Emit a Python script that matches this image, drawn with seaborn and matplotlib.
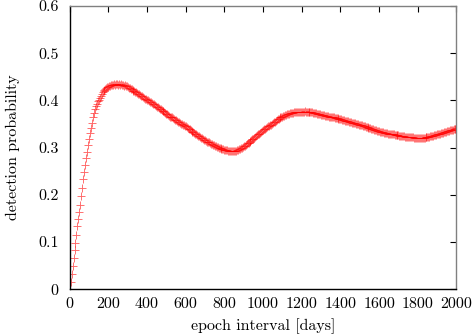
import matplotlib
matplotlib.use("Agg")
import matplotlib.pyplot as plt
import seaborn as sns
import pandas as pd

# ---- data ----
days = list(range(5, 2001, 5))

prob_0005_0400 = [
    0.016, 0.033, 0.050, 0.066, 0.083, 0.099, 0.116, 0.134, 0.148, 0.163,
    0.179, 0.198, 0.215, 0.233, 0.249, 0.264, 0.278, 0.291, 0.305, 0.318,
    0.331, 0.342, 0.352, 0.364, 0.373, 0.381, 0.388, 0.392, 0.399, 0.402,
    0.405, 0.410, 0.413, 0.417, 0.419, 0.422, 0.424, 0.426, 0.428, 0.429,
    0.430, 0.431, 0.432, 0.433, 0.432, 0.434, 0.433, 0.435, 0.434, 0.433,
    0.434, 0.433, 0.434, 0.432, 0.433, 0.431, 0.432, 0.430, 0.430, 0.428,
    0.427, 0.426, 0.425, 0.424, 0.423, 0.421, 0.420, 0.418, 0.417, 0.415,
    0.414, 0.413, 0.411, 0.410, 0.409, 0.407, 0.406, 0.404, 0.403, 0.401,
]
prob_0405_0800 = [
    0.400, 0.398, 0.397, 0.396, 0.395, 0.393, 0.392, 0.390, 0.389, 0.387,
    0.386, 0.384, 0.382, 0.381, 0.379, 0.378, 0.377, 0.375, 0.374, 0.372,
    0.371, 0.369, 0.368, 0.366, 0.365, 0.364, 0.362, 0.361, 0.359, 0.358,
    0.356, 0.355, 0.354, 0.352, 0.351, 0.350, 0.349, 0.347, 0.346, 0.345,
    0.343, 0.342, 0.340, 0.339, 0.337, 0.336, 0.334, 0.333, 0.331, 0.330,
    0.328, 0.327, 0.325, 0.324, 0.322, 0.321, 0.320, 0.318, 0.317, 0.316,
    0.314, 0.313, 0.312, 0.311, 0.310, 0.308, 0.307, 0.306, 0.305, 0.304,
    0.303, 0.302, 0.301, 0.300, 0.300, 0.299, 0.298, 0.297, 0.297, 0.296,
]
prob_0805_1200 = [
    0.296, 0.295, 0.295, 0.294, 0.294, 0.294, 0.293, 0.293, 0.293, 0.294,
    0.294, 0.294, 0.295, 0.296, 0.297, 0.298, 0.299, 0.300, 0.301, 0.303,
    0.304, 0.306, 0.307, 0.309, 0.310, 0.312, 0.314, 0.316, 0.318, 0.319,
    0.321, 0.323, 0.325, 0.327, 0.329, 0.330, 0.332, 0.334, 0.335, 0.337,
    0.339, 0.340, 0.342, 0.343, 0.345, 0.346, 0.348, 0.349, 0.351, 0.352,
    0.354, 0.355, 0.357, 0.358, 0.360, 0.361, 0.362, 0.364, 0.365, 0.366,
    0.367, 0.368, 0.369, 0.370, 0.371, 0.372, 0.372, 0.373, 0.373, 0.374,
    0.374, 0.375, 0.375, 0.375, 0.376, 0.376, 0.376, 0.376, 0.376, 0.376,
]
prob_1205_1600 = [
    0.376, 0.376, 0.377, 0.376, 0.376, 0.376, 0.376, 0.376, 0.375, 0.375,
    0.375, 0.374, 0.374, 0.373, 0.373, 0.372, 0.372, 0.371, 0.371, 0.370,
    0.370, 0.369, 0.369, 0.368, 0.368, 0.367, 0.367, 0.366, 0.366, 0.365,
    0.365, 0.364, 0.364, 0.363, 0.363, 0.362, 0.362, 0.361, 0.361, 0.360,
    0.360, 0.359, 0.359, 0.358, 0.357, 0.357, 0.356, 0.356, 0.355, 0.355,
    0.354, 0.353, 0.353, 0.352, 0.352, 0.351, 0.350, 0.350, 0.349, 0.348,
    0.348, 0.347, 0.346, 0.346, 0.345, 0.344, 0.344, 0.343, 0.342, 0.342,
    0.341, 0.340, 0.340, 0.339, 0.338, 0.338, 0.337, 0.336, 0.336, 0.335,
]
prob_1605_2000 = [
    0.334, 0.334, 0.333, 0.333, 0.332, 0.332, 0.331, 0.331, 0.330, 0.330,
    0.329, 0.329, 0.328, 0.328, 0.328, 0.327, 0.327, 0.326, 0.326, 0.326,
    0.325, 0.325, 0.325, 0.324, 0.324, 0.324, 0.323, 0.323, 0.323, 0.323,
    0.322, 0.322, 0.322, 0.322, 0.322, 0.321, 0.321, 0.321, 0.321, 0.321,
    0.321, 0.321, 0.321, 0.321, 0.321, 0.321, 0.321, 0.322, 0.322, 0.322,
    0.323, 0.323, 0.324, 0.324, 0.325, 0.325, 0.326, 0.327, 0.327, 0.328,
    0.329, 0.329, 0.330, 0.331, 0.331, 0.332, 0.333, 0.333, 0.334, 0.335,
    0.335, 0.336, 0.337, 0.337, 0.338, 0.338, 0.339, 0.339, 0.340, 0.341,
]

x_ticks = [0, 200, 400, 600, 800, 1000, 1200, 1400, 1600, 1800, 2000]
y_ticks = [0, 0.1, 0.2, 0.3, 0.4, 0.5, 0.6]
y_tick_labels = ["0", "0.1", "0.2", "0.3", "0.4", "0.5", "0.6"]
x_label = "epoch interval [days]"
y_label = "detection probability"

prob = prob_0005_0400 + prob_0405_0800 + prob_0805_1200 + prob_1205_1600 + prob_1605_2000
df = pd.DataFrame({"days": days, "prob": prob})

# ---- style ----
sns.set_theme(style="white")
plt.rcParams["font.family"] = ["cmr10", "DejaVu Serif"]
plt.rcParams["mathtext.fontset"] = "cm"
plt.rcParams["axes.formatter.use_mathtext"] = True

fig = plt.figure(figsize=(4.74, 3.36), dpi=100)
ax = fig.add_axes([0.147, 0.139, 0.816, 0.843])

sns.scatterplot(data=df, x="days", y="prob", ax=ax, marker="+", color="#ff0000",
                s=26, linewidth=0.65, alpha=0.6, legend=False)

ax.set_xlim(0, 2000)
ax.set_ylim(0, 0.6)
ax.set_xticks(x_ticks)
ax.set_xticklabels([str(t) for t in x_ticks])
ax.set_yticks(y_ticks)
ax.set_yticklabels(y_tick_labels)
ax.tick_params(axis="both", which="both", direction="in", length=4, width=0.8,
               top=True, right=True, labelsize=11.5, colors="black")
ax.tick_params(axis="y", pad=8)
ax.tick_params(axis="x", pad=6)
for side in ["left", "bottom"]:
    ax.spines[side].set_color("black")
    ax.spines[side].set_linewidth(1.0)
for side in ["top", "right"]:
    ax.spines[side].set_color("#808080")
    ax.spines[side].set_linewidth(1.0)

ax.set_xlabel(x_label, fontsize=11.5, color="black", labelpad=5)
ax.set_ylabel(y_label, fontsize=11.5, color="black", labelpad=13)
ax.grid(False)

fig.savefig("out.png", dpi=100)
